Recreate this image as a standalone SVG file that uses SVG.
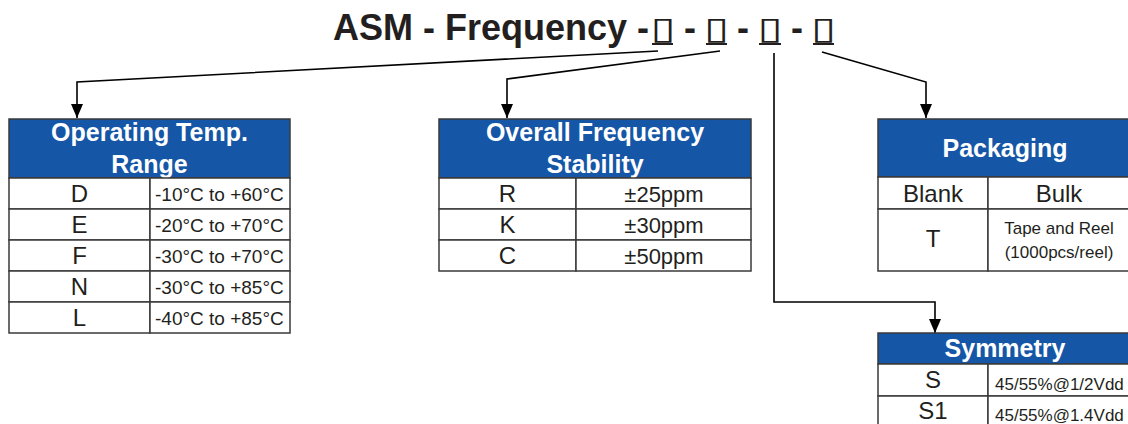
<svg xmlns="http://www.w3.org/2000/svg" width="1128" height="424" viewBox="0 0 1128 424">
<style>
  .title{font-family:"Liberation Sans",Arial,sans-serif;font-weight:bold;font-size:36px;fill:#231f20}
  .box{font-family:"DejaVu Sans",sans-serif;font-weight:normal;font-size:31px;fill:#231f20;text-anchor:middle}
  .hdr{fill:#1556a6;stroke:#3a3a3a;stroke-width:1.5}
  .cell{fill:#ffffff;stroke:#3a3a3a;stroke-width:1.5}
  .ht{font-family:"Liberation Sans",Arial,sans-serif;font-weight:bold;font-size:25px;fill:#ffffff;text-anchor:middle}
  .k{font-family:"Liberation Sans",Arial,sans-serif;font-size:24px;fill:#231f20;text-anchor:middle}
  .v{font-family:"Liberation Sans",Arial,sans-serif;font-size:19px;fill:#231f20}
  .vm{font-family:"Liberation Sans",Arial,sans-serif;font-size:22px;fill:#231f20;text-anchor:middle}
  .s{font-family:"Liberation Sans",Arial,sans-serif;font-size:17px;fill:#231f20;text-anchor:middle}
  .sl{font-family:"Liberation Sans",Arial,sans-serif;font-size:17px;fill:#231f20}
  .ul{stroke:#231f20;stroke-width:2}
  .conn{fill:none;stroke:#000;stroke-width:1.6}
</style>
<defs>
  <marker id="arr" viewBox="0 0 14 12" refX="14" refY="6" markerWidth="14" markerHeight="12" markerUnits="userSpaceOnUse" orient="auto">
    <path d="M0,0 L14,6 L0,12 z" fill="#000"/>
  </marker>
</defs>

<g id="title">
  <text class="title" x="333" y="40">ASM - Frequency<tspan x="643" text-anchor="middle">-</tspan><tspan x="690" text-anchor="middle">-</tspan><tspan x="743" text-anchor="middle">-</tspan><tspan x="797" text-anchor="middle">-</tspan></text>
  <text class="box" transform="translate(663,39) scale(1.5,1)">▯</text>
  <text class="box" transform="translate(716.5,39) scale(1.5,1)">▯</text>
  <text class="box" transform="translate(770,39) scale(1.5,1)">▯</text>
  <text class="box" transform="translate(823.5,39) scale(1.5,1)">▯</text>
  <line class="ul" x1="652" y1="44" x2="673" y2="44"/>
  <line class="ul" x1="706" y1="44" x2="727" y2="44"/>
  <line class="ul" x1="759" y1="44" x2="781" y2="44"/>
  <line class="ul" x1="813" y1="44" x2="834" y2="44"/>
</g>

<g id="connectors">
  <path class="conn" d="M658,51 L77,82 L77,118" marker-end="url(#arr)"/>
  <path class="conn" d="M720,51 L507,79 L507,118" marker-end="url(#arr)"/>
  <path class="conn" d="M774,53 L774,302 L935,302 L935,333" marker-end="url(#arr)"/>
  <path class="conn" d="M822,52 L926,82 L926,118" marker-end="url(#arr)"/>
</g>

<g id="t-temp">
  <rect class="hdr" x="9" y="119" width="281" height="59"/>
  <text class="ht" x="149.5" y="141">Operating Temp.</text>
  <text class="ht" x="149.5" y="173">Range</text>
  <rect class="cell" x="9" y="178" width="141" height="31"/><rect class="cell" x="150" y="178" width="140" height="31"/>
  <rect class="cell" x="9" y="209" width="141" height="31"/><rect class="cell" x="150" y="209" width="140" height="31"/>
  <rect class="cell" x="9" y="240" width="141" height="31"/><rect class="cell" x="150" y="240" width="140" height="31"/>
  <rect class="cell" x="9" y="271" width="141" height="31"/><rect class="cell" x="150" y="271" width="140" height="31"/>
  <rect class="cell" x="9" y="302" width="141" height="31"/><rect class="cell" x="150" y="302" width="140" height="31"/>
  <text class="k" x="79.5" y="202">D</text><text class="v" x="155" y="201">-10°C to +60°C</text>
  <text class="k" x="79.5" y="233">E</text><text class="v" x="155" y="232">-20°C to +70°C</text>
  <text class="k" x="79.5" y="264">F</text><text class="v" x="155" y="263">-30°C to +70°C</text>
  <text class="k" x="79.5" y="295">N</text><text class="v" x="155" y="294">-30°C to +85°C</text>
  <text class="k" x="79.5" y="326">L</text><text class="v" x="155" y="325">-40°C to +85°C</text>
</g>

<g id="t-stab">
  <rect class="hdr" x="439" y="119" width="312" height="59"/>
  <text class="ht" x="595" y="141">Overall Frequency</text>
  <text class="ht" x="595" y="173">Stability</text>
  <rect class="cell" x="439" y="178" width="137" height="31"/><rect class="cell" x="576" y="178" width="175" height="31"/>
  <rect class="cell" x="439" y="209" width="137" height="31"/><rect class="cell" x="576" y="209" width="175" height="31"/>
  <rect class="cell" x="439" y="240" width="137" height="31"/><rect class="cell" x="576" y="240" width="175" height="31"/>
  <text class="k" x="507.5" y="202">R</text><text class="vm" x="664" y="202">±25ppm</text>
  <text class="k" x="507.5" y="233">K</text><text class="vm" x="664" y="233">±30ppm</text>
  <text class="k" x="507.5" y="264">C</text><text class="vm" x="664" y="264">±50ppm</text>
</g>

<g id="t-pack">
  <rect class="hdr" x="878" y="119" width="254" height="58"/>
  <text class="ht" x="1005" y="157">Packaging</text>
  <rect class="cell" x="878" y="177" width="110" height="32"/><rect class="cell" x="988" y="177" width="144" height="32"/>
  <rect class="cell" x="878" y="209" width="110" height="62"/><rect class="cell" x="988" y="209" width="144" height="62"/>
  <text class="k" x="933" y="202">Blank</text><text class="k" x="1059" y="202">Bulk</text>
  <text class="k" x="933" y="247">T</text>
  <text class="s" x="1059" y="234">Tape and Reel</text>
  <text class="s" x="1059" y="258">(1000pcs/reel)</text>
</g>

<g id="t-sym">
  <rect class="hdr" x="878" y="333" width="254" height="31"/>
  <text class="ht" x="1005" y="357">Symmetry</text>
  <rect class="cell" x="878" y="364" width="110" height="32"/><rect class="cell" x="988" y="364" width="144" height="32"/>
  <rect class="cell" x="878" y="396" width="110" height="32"/><rect class="cell" x="988" y="396" width="144" height="32"/>
  <text class="k" x="933" y="388">S</text><text class="sl" x="995" y="390">45/55%@1/2Vdd</text>
  <text class="k" x="933" y="419">S1</text><text class="sl" x="995" y="421">45/55%@1.4Vdd</text>
</g>
</svg>
